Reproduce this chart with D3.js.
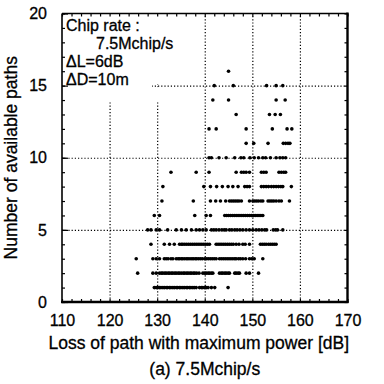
<!DOCTYPE html>
<html>
<head>
<meta charset="utf-8">
<script src="https://cdn.jsdelivr.net/npm/d3@7"></script>
<style>
  body { margin: 0; background: #fff; }
  text { font-family: "Liberation Sans", Arial, sans-serif; fill: #000; stroke: #000; stroke-width: 0.3px; }
</style>
</head>
<body>
<div id="chart"></div>
<script>
// loss of path with maximum power [dB], one list per number of available paths
const loss1 = [129.4, 129.8, 130.1, 130.5, 130.8, 131.2, 131.5, 131.9, 132.2, 132.6, 132.9, 133.3, 133.6, 134.0, 134.3, 134.7, 135.0, 135.4, 135.7, 136.1, 136.4, 136.8, 137.1, 137.5, 137.8, 138.2, 138.9, 139.3, 139.6, 140.0, 140.3, 140.7, 141.4, 142.1, 144.9];
const loss2 = [125.9, 129.1, 129.8, 130.5, 130.9, 131.2, 131.6, 131.9, 132.3, 132.6, 133.0, 133.3, 133.7, 134.0, 134.4, 134.7, 135.1, 135.5, 135.8, 136.2, 136.5, 136.9, 137.2, 137.6, 137.9, 138.3, 138.8, 139.6, 140.0, 140.3, 140.7, 141.0, 141.4, 141.7, 143.1, 143.5, 143.8, 144.2, 144.5, 144.9, 145.2, 146.3, 146.6, 147.0, 147.3, 148.7, 149.4, 151.3];
const loss3 = [125.6, 129.1, 129.8, 130.5, 131.5, 131.9, 132.3, 132.9, 133.3, 134.0, 134.4, 134.7, 135.1, 135.4, 135.8, 136.2, 136.5, 136.9, 137.3, 137.6, 138.0, 138.3, 138.7, 139.1, 139.5, 140.0, 140.4, 140.8, 141.2, 141.6, 142.0, 142.4, 143.1, 143.5, 143.9, 144.3, 144.7, 145.1, 145.5, 145.9, 146.3, 146.6, 147.1, 147.5, 148.0, 148.6, 149.4, 149.9, 150.4, 152.2];
const loss4 = [128.7, 131.5, 132.6, 133.6, 134.7, 135.1, 135.4, 135.8, 136.2, 136.6, 137.0, 137.4, 137.8, 138.2, 138.6, 139.0, 139.4, 139.8, 140.2, 140.6, 141.0, 142.4, 142.8, 143.2, 143.6, 144.0, 144.4, 144.8, 145.2, 145.6, 146.0, 146.6, 147.2, 148.0, 148.5, 149.4, 151.7, 152.1, 152.5, 152.9, 153.4, 153.8, 154.2, 154.6, 155.0];
const loss5 = [128.0, 128.7, 129.8, 130.5, 132.2, 134.0, 135.1, 136.1, 137.2, 138.2, 138.9, 139.6, 140.3, 141.4, 141.9, 142.4, 143.0, 143.6, 144.1, 144.5, 145.2, 145.7, 146.3, 146.8, 147.4, 148.0, 148.7, 149.4, 150.1, 150.8, 151.4, 152.0, 152.6, 153.0, 154.4, 154.9, 155.3, 156.4];
const loss6 = [129.4, 130.5, 137.9, 140.3, 141.2, 144.2, 144.6, 145.0, 145.4, 145.8, 146.2, 146.6, 147.0, 147.4, 147.8, 148.2, 148.6, 149.0, 149.4, 149.8, 150.2, 150.6, 151.0, 151.4, 151.8, 152.2];
const loss7 = [131.0, 137.6, 141.2, 142.3, 143.3, 144.4, 145.2, 145.6, 146.0, 146.4, 146.8, 147.2, 147.7, 149.4, 150.1, 150.5, 150.9, 151.3, 151.8, 152.2, 153.3, 153.7, 154.1, 154.5, 155.0, 155.6, 156.1, 157.8];
const loss8 = [131.2, 139.8, 141.2, 142.5, 143.7, 144.9, 145.9, 147.0, 148.4, 148.9, 149.4, 151.9, 152.4, 152.9, 153.4, 154.0, 154.5, 155.0, 155.5, 156.0, 156.4, 158.2];
const loss9 = [132.9, 138.2, 140.9, 146.6, 147.7, 148.2, 148.7, 149.4, 151.9, 152.4, 152.9, 155.6, 156.1, 156.6, 157.0];
const loss10 = [140.9, 141.4, 143.0, 144.5, 146.3, 147.6, 148.2, 149.5, 150.4, 151.3, 152.2, 152.8, 153.8, 155.0, 155.8, 156.4, 157.0];
const loss11 = [148.7, 150.3, 153.3, 156.5, 157.0, 157.5, 157.9];
const loss12 = [140.9, 142.4, 148.7, 154.2, 157.3, 158.3];
const loss13 = [146.6, 153.6, 154.8, 155.9];
const loss14 = [141.7, 145.0, 155.0, 156.9];
const loss15 = [142.0, 146.0, 153.0, 155.0, 156.4];
const loss16 = [145.0];

const pathCounts = [1, 2, 3, 4, 5, 6, 7, 8, 9, 10, 11, 12, 13, 14, 15, 16];
const lossLists = [loss1, loss2, loss3, loss4, loss5, loss6, loss7, loss8, loss9, loss10, loss11, loss12, loss13, loss14, loss15, loss16];

const xTicks = [110, 120, 130, 140, 150, 160, 170];
const yTicks = [0, 5, 10, 15, 20];
const xGrid = [120, 130, 140, 150, 160];
const yGrid = [5, 10, 15];
const notes = ["Chip rate :", "7.5Mchip/s", "\u0394L=6dB", "\u0394D=10m"];

const width = 384;
const height = 384;

const points = [];
lossLists.forEach((list, i) => {
  list.forEach(v => points.push({ loss: v, paths: pathCounts[i] }));
});

const x = d3.scaleLinear().domain([110, 170]).range([62, 347.5]);
const y = d3.scaleLinear().domain([0, 20]).range([302, 13.5]);

const svg = d3.select("#chart")
  .append("svg")
  .attr("width", width)
  .attr("height", height);

svg.append("rect")
  .attr("width", width)
  .attr("height", height)
  .attr("fill", "#fff");

const plotH = y(0) - y(20);
const plotW = x(170) - x(110);

// dotted grid
svg.append("g")
  .attr("transform", `translate(0,${y(0)})`)
  .call(d3.axisBottom(x).tickValues(xGrid).tickSize(-plotH).tickFormat(""))
  .call(g => g.select(".domain").remove())
  .selectAll("line")
  .attr("stroke", "#000")
  .attr("stroke-width", 1.2)
  .attr("stroke-dasharray", "1.2,2");

svg.append("g")
  .attr("transform", `translate(${x(110)},0)`)
  .call(d3.axisLeft(y).tickValues(yGrid).tickSize(-plotW).tickFormat(""))
  .call(g => g.select(".domain").remove())
  .selectAll("line")
  .attr("stroke", "#000")
  .attr("stroke-width", 1.2)
  .attr("stroke-dasharray", "1.2,2");

// white patches behind the note text
const bg = svg.append("g").attr("fill", "#fff");
bg.append("rect").attr("x", x(110) + 1).attr("y", y(20) + 1).attr("width", 135).attr("height", 41);
bg.append("rect").attr("x", x(110) + 1).attr("y", y(20) + 1).attr("width", 89).attr("height", 87);
bg.append("rect").attr("x", x(130) - 3).attr("y", y(20) + 40).attr("width", 6).attr("height", y(15) - y(20) - 41.5);
bg.append("rect").attr("x", x(130) - 3).attr("y", y(15) + 1.5).attr("width", 6).attr("height", 14);

const noteX = [66, 96, 66, 66];
svg.append("g")
  .selectAll("text")
  .data(notes)
  .enter()
  .append("text")
  .attr("x", (d, i) => noteX[i])
  .attr("y", (d, i) => 31 + i * 18)
  .attr("font-size", "16px")
  .text(d => d);

// points
svg.append("g")
  .selectAll("circle")
  .data(points)
  .enter()
  .append("circle")
  .attr("cx", d => x(d.loss))
  .attr("cy", d => y(d.paths))
  .attr("r", 1.8)
  .attr("fill", "#000");

// inward ticks on all four sides
const minorX = d3.range(110, 171, 2);
const minorY = d3.range(0, 21, 1);
function styleTicks(g) {
  g.select(".domain").remove();
  g.selectAll("line").attr("stroke", "#000").attr("stroke-width", 1.2);
}
svg.append("g").attr("transform", `translate(0,${y(0)})`)
  .call(d3.axisBottom(x).tickValues(minorX).tickSize(-3).tickFormat("")).call(styleTicks);
svg.append("g").attr("transform", `translate(0,${y(20)})`)
  .call(d3.axisTop(x).tickValues(minorX).tickSize(-3).tickFormat("")).call(styleTicks);
svg.append("g").attr("transform", `translate(${x(110)},0)`)
  .call(d3.axisLeft(y).tickValues(minorY).tickSize(-3).tickFormat("")).call(styleTicks);
svg.append("g").attr("transform", `translate(${x(170)},0)`)
  .call(d3.axisRight(y).tickValues(minorY).tickSize(-3).tickFormat("")).call(styleTicks);
svg.append("g").attr("transform", `translate(${x(110)},0)`)
  .call(d3.axisLeft(y).tickValues(yTicks).tickSize(-6).tickFormat("")).call(styleTicks);

// frame
svg.append("line").attr("x1", x(110)).attr("x2", x(110)).attr("y1", y(20)).attr("y2", y(0))
  .attr("stroke", "#000").attr("stroke-width", 1.6);
svg.append("line").attr("x1", x(110)).attr("x2", x(170)).attr("y1", y(20)).attr("y2", y(20))
  .attr("stroke", "#000").attr("stroke-width", 1.6);
svg.append("line").attr("x1", x(170)).attr("x2", x(170)).attr("y1", y(20) - 1).attr("y2", y(0) + 1)
  .attr("stroke", "#000").attr("stroke-width", 2.4);
svg.append("line").attr("x1", x(110) - 1).attr("x2", x(170) + 1).attr("y1", y(0)).attr("y2", y(0))
  .attr("stroke", "#000").attr("stroke-width", 2.4);

// tick labels
svg.append("g")
  .attr("transform", `translate(0,${y(0)})`)
  .call(d3.axisBottom(x).tickValues(xTicks).tickSize(0).tickPadding(13))
  .call(g => g.select(".domain").remove())
  .selectAll("text")
  .attr("font-size", "16px")
  .attr("font-family", "Liberation Sans, Arial, sans-serif");

svg.append("g")
  .attr("transform", `translate(${x(110)},0)`)
  .call(d3.axisLeft(y).tickValues(yTicks).tickSize(0).tickPadding(15))
  .call(g => g.select(".domain").remove())
  .selectAll("text")
  .attr("font-size", "16px")
  .attr("font-family", "Liberation Sans, Arial, sans-serif");

// axis titles and caption
svg.append("text")
  .attr("x", (x(110) + x(170)) / 2 - 6)
  .attr("y", 349)
  .attr("text-anchor", "middle")
  .attr("font-size", "17.5px")
  .text("Loss of path with maximum power [dB]");

svg.append("text")
  .attr("transform", `translate(17,${(y(0) + y(20)) / 2}) rotate(-90)`)
  .attr("text-anchor", "middle")
  .attr("font-size", "17.5px")
  .text("Number of available paths");

svg.append("text")
  .attr("x", (x(110) + x(170)) / 2)
  .attr("y", 375)
  .attr("text-anchor", "middle")
  .attr("font-size", "17.5px")
  .text("(a) 7.5Mchip/s");
</script>
</body>
</html>
